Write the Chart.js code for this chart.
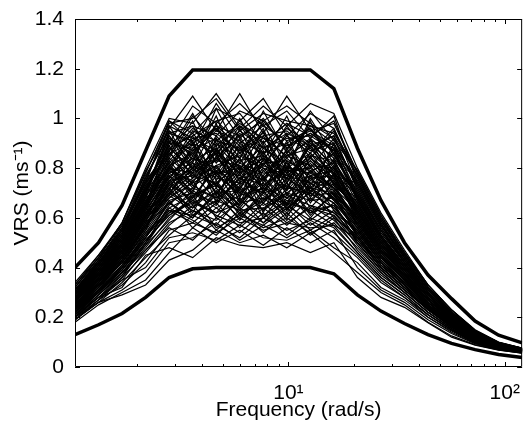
<!DOCTYPE html>
<html>
<head>
<meta charset="utf-8">
<script src="https://cdn.jsdelivr.net/npm/chart.js@4.4.1/dist/chart.umd.min.js"></script>
<style>
  html, body { margin: 0; padding: 0; background: #fff; }
  #wrap { width: 526px; height: 423px; }
</style>
</head>
<body>
<div id="wrap"><canvas id="vrsChart" width="526" height="423"></canvas></div>
<script>
// frequency grid (rad/s)
const freq = [1.032, 1.326, 1.703, 2.188, 2.810, 3.610, 4.638, 5.958, 7.653, 9.831,
              12.63, 16.22, 20.84, 26.77, 34.39, 44.17, 56.74, 72.89, 93.63, 120.3];

// envelope bounds (thick lines)
const upperBound = [0.40, 0.50, 0.65, 0.87, 1.09, 1.195, 1.195, 1.195, 1.195, 1.195,
                    1.195, 1.12, 0.88, 0.67, 0.50, 0.37, 0.275, 0.185, 0.128, 0.097];
const lowerBound = [0.13, 0.17, 0.215, 0.28, 0.36, 0.395, 0.40, 0.40, 0.40, 0.40,
                    0.40, 0.375, 0.29, 0.225, 0.175, 0.13, 0.095, 0.07, 0.05, 0.038];

// individual responses (thin lines)
const responses = [
  [0.33,0.44,0.58,0.80,1.00,0.98,1.10,0.96,1.05,0.97,1.06,1.02,0.80,0.62,0.47,0.33,0.23,0.15,0.10,0.076],
  [0.31,0.42,0.55,0.76,0.96,1.09,0.95,1.10,0.94,1.09,0.95,0.98,0.78,0.60,0.46,0.32,0.23,0.145,0.098,0.075],
  [0.34,0.45,0.57,0.74,0.99,0.94,1.04,0.99,1.08,0.93,1.02,0.96,0.76,0.58,0.44,0.31,0.22,0.14,0.096,0.074],
  [0.30,0.41,0.53,0.72,0.90,1.05,0.98,1.06,0.97,1.03,0.92,1.01,0.74,0.57,0.45,0.32,0.22,0.145,0.097,0.075],
  [0.32,0.43,0.56,0.78,0.98,1.00,1.08,0.95,1.02,0.99,0.97,0.94,0.79,0.61,0.46,0.33,0.23,0.148,0.099,0.076],
  [0.29,0.40,0.52,0.70,0.94,0.97,0.93,1.03,0.99,1.05,0.98,0.92,0.72,0.55,0.43,0.31,0.22,0.14,0.095,0.073],
  [0.28,0.39,0.50,0.68,0.88,0.93,0.99,0.90,0.97,0.91,0.95,0.89,0.70,0.54,0.42,0.30,0.21,0.138,0.093,0.072],
  [0.30,0.40,0.51,0.66,0.85,0.96,0.89,0.97,0.90,0.98,0.88,0.93,0.71,0.55,0.43,0.30,0.21,0.14,0.094,0.073],
  [0.27,0.37,0.49,0.65,0.90,0.88,0.97,0.93,0.99,0.88,0.96,0.86,0.69,0.52,0.41,0.29,0.20,0.135,0.092,0.071],
  [0.29,0.41,0.52,0.69,0.83,0.92,0.94,0.87,0.93,0.95,0.87,0.90,0.73,0.56,0.42,0.30,0.21,0.137,0.093,0.072],
  [0.26,0.36,0.48,0.64,0.86,0.90,0.86,0.95,0.88,0.92,0.93,0.87,0.68,0.51,0.40,0.29,0.20,0.134,0.091,0.071],
  [0.31,0.42,0.54,0.71,0.92,0.87,0.95,0.91,0.86,0.96,0.90,0.85,0.70,0.53,0.41,0.29,0.205,0.136,0.092,0.072],
  [0.28,0.38,0.50,0.67,0.80,0.95,0.91,0.98,0.92,0.89,0.94,0.88,0.67,0.52,0.40,0.28,0.20,0.132,0.090,0.070],
  [0.25,0.35,0.46,0.60,0.78,0.84,0.80,0.86,0.79,0.85,0.81,0.80,0.64,0.49,0.39,0.28,0.195,0.13,0.089,0.069],
  [0.27,0.37,0.47,0.62,0.74,0.80,0.86,0.78,0.84,0.80,0.86,0.78,0.65,0.50,0.38,0.27,0.19,0.128,0.088,0.069],
  [0.24,0.34,0.44,0.58,0.80,0.78,0.83,0.81,0.77,0.87,0.79,0.82,0.62,0.48,0.37,0.27,0.19,0.127,0.087,0.068],
  [0.26,0.36,0.48,0.63,0.76,0.86,0.77,0.83,0.85,0.78,0.84,0.76,0.66,0.50,0.39,0.28,0.195,0.13,0.088,0.069],
  [0.23,0.33,0.43,0.57,0.72,0.79,0.84,0.76,0.82,0.83,0.77,0.79,0.61,0.47,0.37,0.26,0.185,0.125,0.086,0.067],
  [0.28,0.38,0.49,0.64,0.79,0.75,0.81,0.85,0.80,0.76,0.83,0.74,0.63,0.49,0.38,0.27,0.19,0.128,0.087,0.068],
  [0.25,0.35,0.45,0.59,0.70,0.82,0.78,0.80,0.75,0.84,0.76,0.77,0.60,0.46,0.36,0.26,0.185,0.124,0.086,0.067],
  [0.24,0.33,0.44,0.56,0.75,0.77,0.74,0.82,0.78,0.79,0.80,0.72,0.59,0.46,0.36,0.26,0.18,0.122,0.085,0.066],
  [0.26,0.37,0.46,0.61,0.73,0.81,0.76,0.74,0.81,0.77,0.74,0.75,0.62,0.48,0.37,0.27,0.19,0.126,0.087,0.068],
  [0.22,0.32,0.42,0.55,0.68,0.74,0.79,0.77,0.73,0.80,0.78,0.73,0.58,0.45,0.35,0.25,0.18,0.12,0.084,0.066],
  [0.23,0.32,0.41,0.53,0.66,0.72,0.68,0.74,0.70,0.73,0.69,0.70,0.56,0.43,0.34,0.25,0.175,0.118,0.083,0.065],
  [0.22,0.31,0.40,0.52,0.64,0.69,0.73,0.67,0.72,0.68,0.72,0.66,0.55,0.42,0.33,0.24,0.17,0.115,0.081,0.064],
  [0.21,0.30,0.39,0.50,0.62,0.66,0.70,0.71,0.65,0.70,0.67,0.68,0.53,0.41,0.33,0.24,0.17,0.114,0.080,0.063],
  [0.24,0.33,0.42,0.54,0.67,0.70,0.64,0.69,0.72,0.64,0.70,0.64,0.54,0.42,0.34,0.245,0.172,0.116,0.082,0.064],
  [0.20,0.29,0.37,0.48,0.60,0.67,0.62,0.66,0.68,0.66,0.63,0.65,0.51,0.40,0.32,0.23,0.165,0.112,0.079,0.062],
  [0.22,0.30,0.38,0.49,0.63,0.61,0.67,0.63,0.64,0.69,0.65,0.62,0.52,0.40,0.32,0.235,0.168,0.113,0.080,0.063],
  [0.19,0.27,0.33,0.42,0.55,0.58,0.54,0.60,0.55,0.58,0.56,0.57,0.46,0.36,0.29,0.21,0.15,0.10,0.074,0.059],
  [0.20,0.26,0.31,0.38,0.50,0.52,0.58,0.51,0.57,0.52,0.58,0.52,0.44,0.34,0.28,0.20,0.145,0.098,0.072,0.058],
  [0.18,0.25,0.30,0.35,0.46,0.56,0.50,0.55,0.49,0.56,0.50,0.55,0.40,0.31,0.26,0.19,0.135,0.094,0.070,0.057],
  [0.19,0.26,0.29,0.33,0.43,0.47,0.55,0.50,0.53,0.48,0.54,0.46,0.38,0.30,0.25,0.18,0.125,0.09,0.069,0.056],
  [0.21,0.28,0.32,0.45,0.48,0.44,0.52,0.49,0.48,0.50,0.46,0.50,0.36,0.28,0.24,0.178,0.12,0.088,0.068,0.056],
  [0.20,0.27,0.35,0.40,0.52,0.54,0.51,0.57,0.52,0.51,0.55,0.48,0.42,0.32,0.27,0.20,0.14,0.096,0.071,0.058],
  [0.27,0.40,0.53,0.73,0.84,0.99,0.78,0.92,0.70,0.88,0.75,0.83,0.66,0.50,0.40,0.29,0.20,0.133,0.090,0.070],
  [0.30,0.43,0.56,0.68,0.95,0.80,0.98,0.74,0.93,0.79,0.99,0.77,0.74,0.57,0.43,0.31,0.215,0.14,0.094,0.073],
  [0.25,0.36,0.45,0.62,0.71,0.90,0.66,0.88,0.74,0.91,0.68,0.84,0.63,0.47,0.37,0.27,0.19,0.126,0.087,0.068],
  [0.29,0.38,0.51,0.69,0.97,0.83,1.01,0.79,0.95,0.72,0.90,0.81,0.69,0.53,0.41,0.30,0.21,0.137,0.092,0.071],
  [0.22,0.34,0.47,0.66,0.81,0.70,0.92,0.68,0.87,0.65,0.85,0.69,0.60,0.47,0.37,0.26,0.185,0.124,0.086,0.067],
  [0.32,0.44,0.55,0.75,0.87,1.02,0.85,1.00,0.83,0.97,0.84,0.95,0.77,0.59,0.45,0.32,0.22,0.143,0.096,0.074],
  [0.24,0.35,0.48,0.60,0.77,0.65,0.85,0.71,0.90,0.69,0.82,0.71,0.58,0.45,0.36,0.26,0.18,0.121,0.085,0.066],
  [0.28,0.37,0.50,0.71,0.82,0.91,0.72,0.96,0.76,0.86,0.73,0.88,0.67,0.52,0.40,0.29,0.20,0.133,0.090,0.070],
  [0.26,0.39,0.52,0.65,0.91,0.76,0.89,0.66,0.84,0.71,0.92,0.73,0.65,0.50,0.39,0.28,0.195,0.13,0.088,0.069],
  [0.23,0.31,0.43,0.58,0.69,0.85,0.70,0.81,0.62,0.83,0.66,0.78,0.59,0.46,0.36,0.26,0.18,0.122,0.085,0.066],
  [0.31,0.41,0.54,0.77,0.93,0.82,1.04,0.86,0.98,0.80,1.00,0.85,0.75,0.58,0.44,0.31,0.22,0.142,0.095,0.073],
  [0.21,0.30,0.41,0.55,0.74,0.62,0.79,0.64,0.76,0.60,0.77,0.63,0.55,0.43,0.34,0.25,0.175,0.117,0.082,0.064],
  [0.27,0.38,0.49,0.67,0.79,0.93,0.75,0.90,0.81,0.94,0.70,0.90,0.68,0.52,0.40,0.29,0.20,0.133,0.090,0.070],
  [0.29,0.42,0.53,0.72,0.86,0.78,0.93,0.82,0.96,0.74,0.91,0.80,0.70,0.55,0.42,0.30,0.21,0.137,0.092,0.071],
  [0.24,0.34,0.46,0.61,0.76,0.88,0.69,0.84,0.67,0.80,0.71,0.76,0.61,0.47,0.37,0.27,0.185,0.125,0.086,0.067],
  [0.33,0.45,0.58,0.79,0.95,0.89,1.06,0.92,1.00,0.87,1.03,0.91,0.79,0.61,0.46,0.33,0.23,0.147,0.098,0.075],
  [0.20,0.28,0.36,0.50,0.65,0.75,0.60,0.72,0.63,0.74,0.61,0.70,0.52,0.41,0.33,0.24,0.168,0.113,0.080,0.063],
  [0.26,0.36,0.47,0.63,0.83,0.72,0.88,0.77,0.91,0.75,0.86,0.74,0.64,0.49,0.38,0.28,0.19,0.128,0.088,0.069],
  [0.28,0.40,0.52,0.70,0.89,0.97,0.82,0.94,0.85,1.01,0.80,0.92,0.72,0.55,0.42,0.30,0.21,0.138,0.093,0.072],
  [0.22,0.32,0.44,0.57,0.70,0.80,0.73,0.65,0.79,0.71,0.81,0.67,0.57,0.44,0.35,0.25,0.178,0.119,0.083,0.065],
  [0.30,0.39,0.51,0.70,0.92,0.85,0.97,0.89,0.81,0.93,0.86,0.96,0.73,0.56,0.43,0.31,0.215,0.14,0.094,0.073],
  [0.25,0.33,0.45,0.59,0.73,0.68,0.80,0.72,0.85,0.63,0.79,0.72,0.60,0.46,0.36,0.26,0.183,0.123,0.086,0.067],
  [0.27,0.39,0.50,0.66,0.87,0.94,0.83,0.97,0.86,0.90,0.96,0.82,0.69,0.53,0.41,0.29,0.205,0.135,0.091,0.071],
  [0.23,0.33,0.42,0.56,0.71,0.64,0.77,0.70,0.66,0.78,0.64,0.74,0.57,0.44,0.35,0.25,0.175,0.118,0.083,0.065],
  [0.29,0.41,0.55,0.74,0.85,1.01,0.90,0.84,0.99,0.88,0.94,0.87,0.75,0.57,0.44,0.31,0.215,0.14,0.094,0.073],
  [0.24,0.36,0.46,0.62,0.78,0.71,0.87,0.75,0.88,0.82,0.72,0.81,0.62,0.48,0.38,0.27,0.19,0.127,0.087,0.068],
  [0.26,0.37,0.49,0.64,0.81,0.90,0.77,0.89,0.72,0.85,0.88,0.77,0.66,0.51,0.39,0.28,0.195,0.13,0.089,0.069],
  [0.21,0.31,0.39,0.52,0.66,0.60,0.71,0.59,0.70,0.62,0.73,0.60,0.53,0.41,0.33,0.24,0.17,0.114,0.080,0.063],
  [0.31,0.43,0.57,0.76,0.94,0.91,0.99,1.02,0.90,0.98,0.93,0.99,0.78,0.60,0.45,0.32,0.22,0.144,0.097,0.074],
  [0.25,0.35,0.47,0.61,0.75,0.83,0.88,0.73,0.83,0.74,0.89,0.79,0.63,0.48,0.37,0.27,0.188,0.126,0.087,0.068],
  [0.28,0.38,0.48,0.65,0.84,0.76,0.84,0.93,0.75,0.90,0.78,0.86,0.67,0.51,0.40,0.29,0.20,0.132,0.090,0.070],
  [0.22,0.30,0.40,0.53,0.62,0.71,0.65,0.78,0.60,0.72,0.70,0.64,0.54,0.42,0.34,0.245,0.172,0.116,0.082,0.064],
  [0.27,0.36,0.50,0.68,0.76,0.87,0.92,0.80,0.89,0.78,0.85,0.83,0.68,0.52,0.40,0.29,0.20,0.132,0.090,0.070],
  [0.24,0.35,0.44,0.60,0.69,0.78,0.67,0.76,0.70,0.81,0.74,0.68,0.58,0.45,0.36,0.26,0.18,0.121,0.085,0.066],
  [0.30,0.42,0.54,0.73,0.91,0.86,0.96,0.84,1.03,0.86,0.97,0.90,0.74,0.57,0.44,0.31,0.215,0.14,0.094,0.073],
  [0.20,0.29,0.38,0.47,0.58,0.63,0.57,0.68,0.58,0.65,0.59,0.66,0.50,0.39,0.31,0.23,0.163,0.11,0.078,0.062],
  [0.26,0.38,0.48,0.65,0.80,0.74,0.90,0.79,0.86,0.76,0.89,0.75,0.65,0.50,0.39,0.28,0.195,0.13,0.089,0.069],
  [0.23,0.32,0.43,0.58,0.68,0.76,0.81,0.70,0.76,0.68,0.75,0.71,0.59,0.45,0.35,0.25,0.18,0.12,0.084,0.066],
  [0.29,0.39,0.52,0.71,0.88,0.80,0.91,0.88,0.94,0.84,0.92,0.84,0.71,0.54,0.42,0.30,0.21,0.136,0.092,0.071],
  [0.21,0.30,0.40,0.51,0.61,0.68,0.74,0.61,0.67,0.74,0.62,0.69,0.54,0.42,0.33,0.24,0.17,0.114,0.080,0.063],
  [0.21,0.30,0.40,0.54,0.63,0.58,0.66,0.56,0.64,0.57,0.65,0.59,0.50,0.39,0.31,0.23,0.16,0.108,0.077,0.061],
  [0.23,0.33,0.44,0.59,0.72,0.61,0.69,0.60,0.71,0.59,0.68,0.62,0.55,0.43,0.34,0.25,0.175,0.117,0.082,0.064],
  [0.19,0.27,0.36,0.46,0.57,0.65,0.55,0.63,0.54,0.62,0.53,0.60,0.47,0.37,0.30,0.22,0.155,0.104,0.075,0.060],
  [0.24,0.35,0.45,0.61,0.75,0.66,0.62,0.73,0.63,0.70,0.60,0.71,0.57,0.44,0.35,0.25,0.178,0.119,0.083,0.065],
  [0.22,0.31,0.41,0.52,0.67,0.56,0.64,0.58,0.60,0.66,0.57,0.63,0.50,0.39,0.31,0.23,0.16,0.108,0.077,0.061],
  [0.26,0.37,0.49,0.66,0.82,0.69,0.74,0.65,0.77,0.64,0.72,0.70,0.60,0.46,0.36,0.26,0.183,0.122,0.085,0.066],
  [0.20,0.28,0.37,0.49,0.59,0.69,0.56,0.61,0.57,0.64,0.55,0.61,0.49,0.38,0.30,0.22,0.155,0.105,0.075,0.060],
  [0.25,0.34,0.46,0.62,0.70,0.64,0.72,0.62,0.68,0.61,0.71,0.66,0.56,0.44,0.35,0.25,0.175,0.118,0.083,0.065],
  [0.28,0.41,0.54,0.72,0.87,0.73,0.78,0.69,0.80,0.70,0.77,0.72,0.63,0.49,0.38,0.27,0.19,0.127,0.087,0.068],
  [0.21,0.29,0.38,0.50,0.64,0.59,0.53,0.62,0.56,0.60,0.54,0.58,0.48,0.38,0.30,0.22,0.155,0.105,0.075,0.060],
  [0.30,0.42,0.55,0.74,0.89,0.77,0.86,0.70,0.82,0.72,0.83,0.74,0.68,0.53,0.41,0.29,0.20,0.133,0.090,0.070],
  [0.23,0.32,0.43,0.56,0.69,0.63,0.59,0.67,0.61,0.67,0.63,0.57,0.52,0.40,0.32,0.235,0.165,0.111,0.079,0.062],
  [0.27,0.38,0.50,0.69,0.80,0.68,0.81,0.67,0.74,0.66,0.79,0.69,0.61,0.47,0.37,0.27,0.188,0.125,0.086,0.067],
  [0.19,0.26,0.34,0.44,0.53,0.61,0.57,0.52,0.60,0.55,0.59,0.54,0.45,0.35,0.28,0.21,0.148,0.10,0.073,0.059],
  [0.25,0.36,0.47,0.63,0.77,0.70,0.66,0.76,0.69,0.63,0.74,0.68,0.58,0.45,0.35,0.26,0.18,0.12,0.084,0.066],
  [0.29,0.40,0.53,0.71,0.93,0.79,0.87,0.78,0.84,0.77,0.84,0.78,0.69,0.53,0.41,0.30,0.205,0.135,0.091,0.071],
  [0.22,0.30,0.39,0.51,0.61,0.67,0.61,0.57,0.66,0.58,0.64,0.61,0.51,0.40,0.32,0.23,0.162,0.109,0.078,0.062],
  [0.26,0.39,0.51,0.67,0.79,0.73,0.68,0.79,0.66,0.76,0.69,0.75,0.62,0.48,0.38,0.27,0.19,0.127,0.087,0.068],
  [0.32,0.44,0.58,0.78,0.99,0.90,0.96,0.86,0.92,0.85,0.91,0.88,0.76,0.59,0.45,0.32,0.22,0.145,0.097,0.075],
  [0.24,0.33,0.42,0.57,0.66,0.60,0.70,0.64,0.58,0.68,0.62,0.65,0.53,0.41,0.33,0.24,0.17,0.114,0.080,0.063],
  [0.20,0.28,0.35,0.47,0.56,0.51,0.60,0.54,0.62,0.53,0.60,0.56,0.46,0.36,0.29,0.21,0.15,0.102,0.074,0.059],
  [0.28,0.37,0.49,0.66,0.81,0.86,0.73,0.84,0.71,0.82,0.70,0.80,0.64,0.50,0.39,0.28,0.195,0.13,0.089,0.069],
  [0.31,0.42,0.56,0.75,0.97,0.92,0.87,0.99,0.88,0.94,0.89,0.93,0.77,0.59,0.45,0.32,0.22,0.143,0.096,0.074],
  [0.23,0.34,0.45,0.60,0.74,0.67,0.75,0.63,0.73,0.65,0.76,0.67,0.56,0.43,0.34,0.25,0.175,0.117,0.082,0.064],
  [0.27,0.37,0.48,0.64,0.78,0.82,0.70,0.80,0.73,0.79,0.67,0.77,0.61,0.47,0.37,0.27,0.188,0.125,0.086,0.067]
];

// axis ticks
const yTicks = [0, 0.2, 0.4, 0.6, 0.8, 1, 1.2, 1.4];
const xMajorTicks = [10, 100];
const xMajorLabels = ['10\u00B9', '10\u00B2'];
const xMinorTicks = [2, 3, 4, 5, 6, 7, 8, 9, 20, 30, 40, 50, 60, 70, 80, 90];

function toPoints(values) {
  return values.map((v, i) => ({ x: freq[i], y: v }));
}

/**
 * Draws the MATLAB style box with inward ticks on all four sides
 */
const boxAxes = {
  id: 'boxAxes',
  afterDatasetsDraw(chart) {
    const { ctx, chartArea: a, scales: { x, y } } = chart;
    ctx.save();
    ctx.strokeStyle = '#000';
    ctx.lineWidth = 1;
    ctx.beginPath();
    ctx.rect(a.left + 0.5, a.top + 0.5, a.right - a.left - 1, a.bottom - a.top - 1);
    yTicks.forEach((v) => {
      const py = Math.round(y.getPixelForValue(v)) + 0.5;
      ctx.moveTo(a.left, py); ctx.lineTo(a.left + 5, py);
      ctx.moveTo(a.right, py); ctx.lineTo(a.right - 5, py);
    });
    const xTick = (v, len) => {
      const px = Math.round(x.getPixelForValue(v)) + 0.5;
      ctx.moveTo(px, a.bottom); ctx.lineTo(px, a.bottom - len);
      ctx.moveTo(px, a.top); ctx.lineTo(px, a.top + len);
    };
    xMinorTicks.forEach((v) => xTick(v, 3));
    xMajorTicks.forEach((v) => xTick(v, 5));
    ctx.stroke();
    ctx.restore();
  }
};

const thinSets = responses.map((r) => ({
  data: toPoints(r),
  borderColor: '#000',
  borderWidth: 1.2,
  pointRadius: 0,
  tension: 0
}));

const thickSets = [upperBound, lowerBound].map((b) => ({
  data: toPoints(b),
  borderColor: '#000',
  borderWidth: 3.5,
  pointRadius: 0,
  tension: 0
}));

const font = { family: 'Liberation Sans, Arial, sans-serif', size: 21 };

new Chart(document.getElementById('vrsChart'), {
  type: 'line',
  data: { datasets: thinSets.concat(thickSets) },
  plugins: [boxAxes],
  options: {
    responsive: false,
    animation: false,
    events: [],
    layout: { padding: { top: 19, right: 1, left: 0, bottom: 0 } },
    plugins: { legend: { display: false }, tooltip: { enabled: false } },
    scales: {
      x: {
        type: 'logarithmic',
        min: freq[0],
        max: freq[freq.length - 1],
        grid: { display: false },
        border: { display: false },
        afterBuildTicks: (scale) => { scale.ticks = xMajorTicks.map((v) => ({ value: v })); },
        afterFit: (scale) => { scale.height = 56; },
        ticks: {
          color: '#000',
          font: font,
          padding: 6,
          maxRotation: 0,
          autoSkip: false,
          callback: (value) => xMajorLabels[xMajorTicks.indexOf(value)] || ''
        },
        title: {
          display: true,
          text: 'Frequency (rad/s)',
          color: '#000',
          font: font,
          padding: { top: 0, bottom: 0 }
        }
      },
      y: {
        min: 0,
        max: 1.4,
        grid: { display: false },
        border: { display: false },
        afterBuildTicks: (scale) => { scale.ticks = yTicks.map((v) => ({ value: v })); },
        afterFit: (scale) => { scale.width = 75; },
        ticks: {
          color: '#000',
          font: font,
          padding: 3,
          callback: (value) => String(value)
        },
        title: {
          display: true,
          text: 'VRS (ms\u207B\u00B9)',
          color: '#000',
          font: font,
          padding: { top: 10, bottom: 0 }
        }
      }
    }
  }
});
</script>
</body>
</html>
